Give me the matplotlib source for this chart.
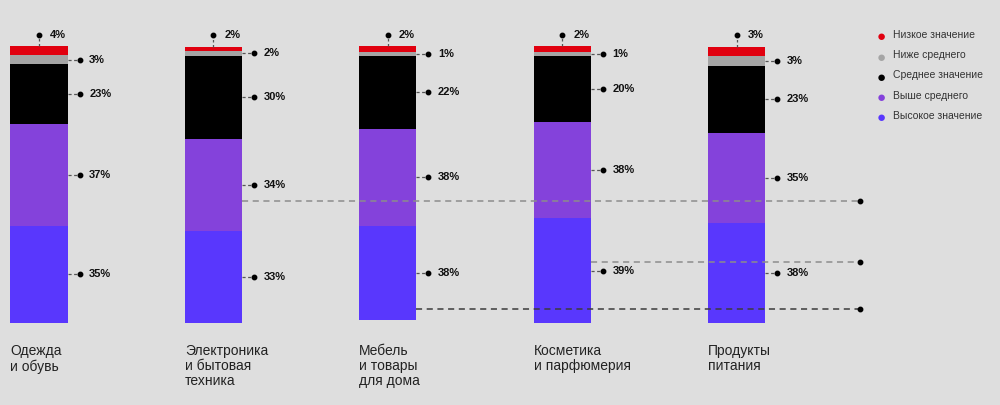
import numpy as np
import matplotlib
matplotlib.use("Agg")
import matplotlib.pyplot as plt

plt.rcParams['font.family'] = ['Liberation Sans', 'DejaVu Sans']

categories = ["Одежда\nи обувь", "Электроника\nи бытовая\nтехника", "Мебель\nи товары\nдля дома",
              "Косметика\nи парфюмерия", "Продукты\nпитания"]
series = ["Низкое значение", "Ниже среднего", "Среднее значение", "Выше среднего", "Высокое значение"]
colors = ["#e1000f", "#a5a5a5", "#000000", "#8442db", "#5937fd"]

# printed percentages
low = [4, 2, 2, 2, 3]
below = [3, 2, 1, 1, 3]
mid = [23, 30, 22, 20, 23]
above = [37, 34, 38, 38, 35]
high = [35, 33, 38, 39, 38]

# segment heights as drawn (share of bar height, %)
bar_base = [0, 0, 1.1, 0, 0]
low_h = [3.2, 1.5, 2.0, 1.9, 3.5]
below_h = [3.3, 1.7, 1.5, 1.6, 3.3]
mid_h = [21.5, 30.0, 26.1, 23.8, 24.1]
above_h = [36.7, 33.1, 35.0, 34.5, 32.5]
high_h = [34.9, 33.1, 33.8, 37.7, 36.0]

# dashed guide lines: level in %, start after bar index, colour
guide_levels = [43.9, 21.9, 5.0]
guide_start = [1, 3, 2]
guide_colors = ["#8c8c8c", "#8c8c8c", "#3c3c3c"]

bg = "#dedede"
px = 174.4  # pixels per category step
fig = plt.figure(figsize=(10, 4.05), dpi=100, facecolor=bg)
ax = fig.add_axes([0, 0.2025, 1, 0.6864])
ax.set_facecolor(bg)
ax.set_xlim(-39 / px, (1000 - 39) / px)
ax.set_ylim(0, 100)
ax.axis("off")

vals = np.array([high, above, mid, below, low])  # bottom -> top
heights = np.array([high_h, above_h, mid_h, below_h, low_h])
cols = [colors[4], colors[3], colors[2], colors[1], colors[0]]
x = np.arange(len(categories))
w = 0.327
top_label_y = 103.6

bottom = np.array(bar_base, dtype=float)
for k in range(5):
    ax.bar(x, heights[k], w, bottom=bottom, color=cols[k], edgecolor="none", zorder=2)
    for i in range(len(categories)):
        txt = f"{vals[k][i]}%"
        if k == 4:
            top = bottom[i] + heights[k][i]
            ax.plot([x[i], x[i]], [top, top_label_y], ls=(0, (2, 2)), color="#555", lw=0.9,
                    zorder=3, clip_on=False)
            ax.plot(x[i], top_label_y, "o", ms=3.2, color="#000", clip_on=False, zorder=4)
            ax.annotate(txt, (x[i], top_label_y), xytext=(8, 0), textcoords="offset points",
                        va="center", ha="left", fontsize=8, fontweight="bold", color="#111",
                        annotation_clip=False)
        else:
            mid_y = bottom[i] + heights[k][i] / 2
            xe = x[i] + w / 2
            xd = xe + 12 / px
            ax.plot([xe, xd], [mid_y, mid_y], ls=(0, (2.5, 2)), color="#555", lw=0.9, zorder=3)
            ax.plot(xd, mid_y, "o", ms=3.2, color="#000", zorder=4)
            ax.annotate(txt, (xd, mid_y), xytext=(7, 0), textcoords="offset points",
                        va="center", ha="left", fontsize=8, fontweight="bold", color="#111")
    bottom += heights[k]

for lvl, st, c in zip(guide_levels, guide_start, guide_colors):
    x0 = x[st] + w / 2
    x1 = (860 - 39) / px
    ax.plot([x0, x1], [lvl, lvl], ls=(0, (4, 3)), color=c, lw=1.1, zorder=5)
    ax.plot(x1, lvl, "o", ms=3.2, color="#000", zorder=5)

for i, cat in enumerate(categories):
    ax.text(x[i] - w / 2, -7.6, cat, ha="left", va="top", fontsize=10,
            color="#222", linespacing=1.1, clip_on=False)

# legend
for j, (s, c) in enumerate(zip(series, colors)):
    yp = 1 - (36 + j * 20.3) / 405
    fig.text(881 / 1000, yp - 0.003, "●", color=c, fontsize=11, ha="center", va="center")
    fig.text(893 / 1000, yp + 0.003, s, color="#333", fontsize=7.5, ha="left", va="center")

fig.savefig("out.png", dpi=100, facecolor=bg)
